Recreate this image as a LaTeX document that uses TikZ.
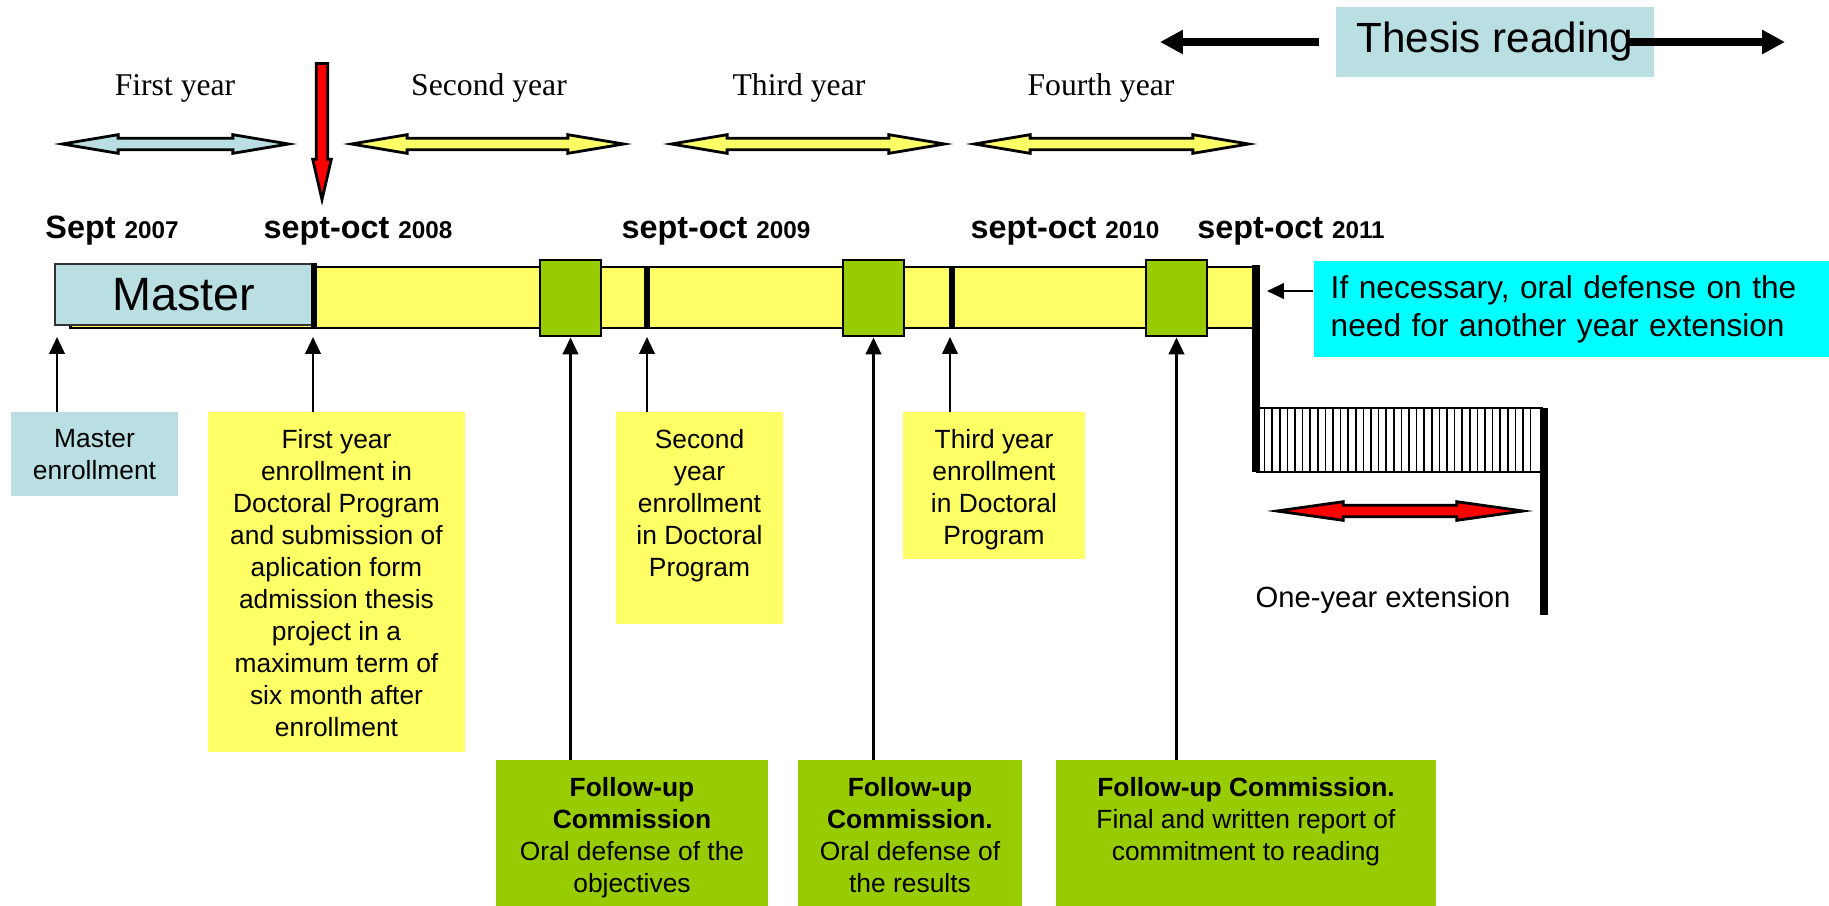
\documentclass[tikz,border=0pt]{standalone}
\usepackage{fontspec}
\setmainfont{Liberation Sans}
\newfontfamily\timesfont{Liberation Serif}
\usetikzlibrary{arrows.meta,shapes.arrows}
\definecolor{lblue}{RGB}{185,223,226}
\definecolor{lyellow}{RGB}{255,255,102}
\definecolor{lgreen}{RGB}{153,204,0}
\definecolor{aqua}{RGB}{0,255,255}
\newcommand{\boxfont}{\fontsize{7.5}{9.1}\selectfont}
\newcommand{\yearsm}[1]{{\fontsize{6.9}{8}\selectfont #1}}

\begin{document}
\begin{tikzpicture}[x=0.01cm,y=-0.01cm,
	yeararrow/.style={double arrow,draw=black,line width=0.8pt,inner xsep=0pt,inner ysep=1.25pt,double arrow head extend=1pt,double arrow tip angle=19},
	yrlabel/.style={font=\timesfont\fontsize{9}{11}\selectfont},
	datelabel/.style={font=\fontsize{9.2}{11}\selectfont\bfseries},
	bx/.style={inner sep=0pt,outer sep=0pt},
	txt/.style={anchor=north,inner sep=0pt,align=center,font=\boxfont},
	gsq/.style={draw,fill=lgreen,line width=0.8pt,inner sep=0pt,minimum width=0.61cm,minimum height=0.76cm},
	up/.style={-{Triangle[length=4.8pt,width=4.4pt]},line width=0.7pt},
	bigarr/.style={-{Triangle[length=6.5pt,width=6.5pt]},line width=2.3pt},
	tick/.style={line width=1.7pt}]
	\useasboundingbox (0,0) rectangle (1829,905);
	
	%thesis reading
	\node[fill=lblue,inner sep=0pt,minimum width=3.18cm,minimum height=0.70cm,font=\fontsize{12}{14}\selectfont] (thesis) at (1495,42) {Thesis reading};
	\coordinate (thl) at (1160,42);
	\coordinate (thr) at (1785,42);
	\draw[bigarr] ([xshift=-0.16cm]thesis.west) -- (thl);
	\draw[bigarr] ([xshift=-0.27cm]thesis.east) -- (thr);
	
	%years
	\node[yrlabel] (y1) at (175,88) {First year};
	\node[yrlabel] (y2) at (489,88) {Second year};
	\node[yrlabel] (y3) at (799,88) {Third year};
	\node[yrlabel] (y4) at (1101,88) {Fourth year};
	\node[yeararrow,fill=lblue,minimum height=2.26cm] (ya1) at (175.5,144) {};
	\node[yeararrow,fill=lyellow,minimum height=2.72cm] (ya2) at (487.5,144) {};
	\node[yeararrow,fill=lyellow,minimum height=2.73cm] (ya3) at (808,144) {};
	\node[yeararrow,fill=lyellow,minimum height=2.74cm] (ya4) at (1111.5,144) {};
	\node[single arrow,draw,fill=red,line width=0.8pt,inner xsep=1.25pt,inner ysep=0pt,single arrow head extend=1pt,single arrow tip angle=26,shape border rotate=270,minimum height=1.36cm] (start) at (322,119) {};
	
	%dates
	\node[datelabel] (d07) at (112,231) {Sept \yearsm{2007}};
	\node[datelabel] (d08) at (358,231) {sept-oct \yearsm{2008}};
	\node[datelabel] (d09) at (716,231) {sept-oct \yearsm{2009}};
	\node[datelabel] (d10) at (1065,231) {sept-oct \yearsm{2010}};
	\node[datelabel] (d11) at (1291,231) {sept-oct \yearsm{2011}};
	
	%time bar
	\node[draw,fill=lyellow,line width=0.8pt,inner sep=0pt,minimum width=11.85cm,minimum height=0.61cm] (bar) at (663.5,297.5) {};
	\node[draw=black!80,fill=lblue,line width=0.6pt,inner sep=0pt,minimum width=2.58cm,minimum height=0.61cm,font=\fontsize{13.3}{15}\selectfont] (master) at (184,294.5) {Master};
	\draw[line width=1.5pt] (master.north east) -- (master.north east |- bar.south);
	\draw[tick] (647,267) -- (647,329);
	\draw[tick] (952,267) -- (952,329);
	\node[gsq] (g1) at (570.5,298) {};
	\node[gsq] (g2) at (873.5,298) {};
	\node[gsq] (g3) at (1176.5,298) {};
	\draw[line width=2pt] (1256,265) -- (1256,472);
	
	%extension
	\draw[line width=0.5pt] (1257,408) rectangle (1542,472);
	\foreach \x in {1264.6,1272.2,...,1538} \draw[line width=0.5pt] (\x,408) -- (\x,472);
	\draw[line width=2pt] (1544,408) -- (1544,615);
	\node[yeararrow,fill=red,minimum height=2.46cm,double arrow tip angle=16] (ext) at (1400,511) {};
	\node[font=\fontsize{8.3}{10}\selectfont] (extl) at (1383,600) {One-year extension};
	
	\node[fill=aqua,anchor=west,inner xsep=0.17cm,inner ysep=0pt,minimum width=5.3cm,minimum height=0.95cm,text width=4.96cm,align=left,font=\fontsize{9}{10.8}\selectfont] (need) at (1313,309) {If necessary, oral defense on the\\need for another year extension};
	\coordinate (needtip) at (1267,291);
	\draw[up] (need.west |- needtip) -- (needtip);
	
	%enrollment boxes
	\node[bx,fill=lblue,minimum width=1.67cm,minimum height=0.84cm] (menr) at (94.5,454) {};
	\node[txt] at ([yshift=-0.17cm]menr.north) {Master\\enrollment};
	\node[bx,fill=lyellow,minimum width=2.57cm,minimum height=3.40cm] (fyenr) at (336.5,582) {};
	\node[txt] at ([yshift=-0.17cm]fyenr.north) {First year\\enrollment in\\Doctoral Program\\and submission of\\aplication form\\admission thesis\\project in a\\maximum term of\\six month after\\enrollment};
	\node[bx,fill=lyellow,minimum width=1.67cm,minimum height=2.12cm] (syenr) at (699.5,518) {};
	\node[txt] at ([yshift=-0.17cm]syenr.north) {Second\\year\\enrollment\\in Doctoral\\Program};
	\node[bx,fill=lyellow,minimum width=1.82cm,minimum height=1.47cm] (tyenr) at (994,485.5) {};
	\node[txt] at ([yshift=-0.17cm]tyenr.north) {Third year\\enrollment\\in Doctoral\\Program};
	
	%commission boxes
	\node[bx,fill=lgreen,minimum width=2.72cm,minimum height=1.50cm] (fu1) at (632,835) {};
	\node[txt] at ([yshift=-0.17cm]fu1.north) {\textbf{Follow-up}\\\textbf{Commission}\\Oral defense of the\\objectives};
	\node[bx,fill=lgreen,minimum width=2.24cm,minimum height=1.50cm] (fu2) at (910,835) {};
	\node[txt] at ([yshift=-0.17cm]fu2.north) {\textbf{Follow-up}\\\textbf{Commission.}\\Oral defense of\\the results};
	\node[bx,fill=lgreen,minimum width=3.80cm,minimum height=1.50cm] (fu3) at (1246,835) {};
	\node[txt] at ([yshift=-0.17cm]fu3.north) {\textbf{Follow-up Commission.}\\Final and written report of\\commitment to reading};
	
	%pointers
	\coordinate (a07) at (57,337);
	\coordinate (a08) at (313,337);
	\coordinate (a09) at (647,337);
	\coordinate (a10) at (950,337);
	\draw[up] (menr.north -| a07) -- (a07);
	\draw[up] (fyenr.north -| a08) -- (a08);
	\draw[up] (syenr.north -| a09) -- (a09);
	\draw[up] (tyenr.north -| a10) -- (a10);
	\draw[up] (fu1.north -| g1.south) -- (g1.south);
	\draw[up] (fu2.north -| g2.south) -- (g2.south);
	\draw[up] (fu3.north -| g3.south) -- (g3.south);
\end{tikzpicture}
\end{document}
